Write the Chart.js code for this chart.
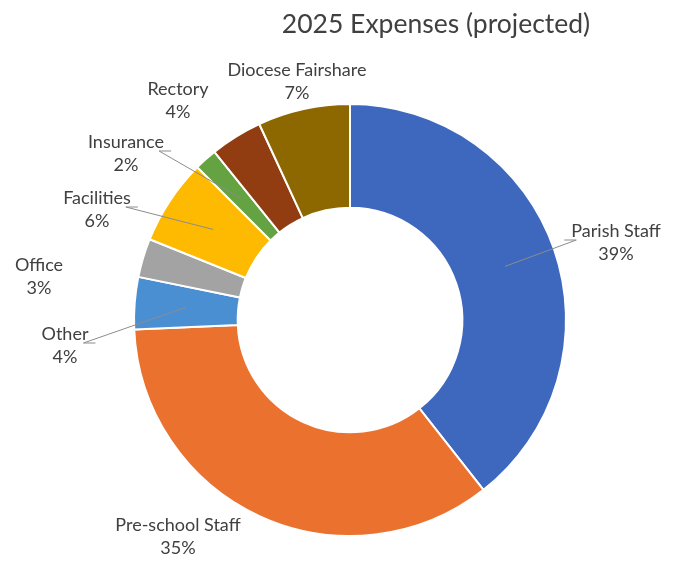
<!DOCTYPE html>
<html>
<head>
<meta charset="utf-8">
<script src="https://cdn.jsdelivr.net/npm/chart.js@4.4.1/dist/chart.umd.min.js"></script>
<style>
  html, body { margin: 0; padding: 0; background: #fff; }
  #wrap { width: 678px; height: 561px; position: relative; }
</style>
</head>
<body>
<div id="wrap"><canvas id="myChart"></canvas></div>
<script>
// data (share of projected 2025 expenses, %)
var categories = ["Parish Staff", "Pre-school Staff", "Other", "Office", "Facilities", "Insurance", "Rectory", "Diocese Fairshare"];
var values = [39.4, 34.9, 3.9, 2.9, 6.4, 1.7, 3.9, 6.9];
var colors = ['#3E67BE', '#EB712E', '#4B8FD3', '#A3A3A3', '#FDBA00', '#64A242', '#923D11', '#8D6700'];

// label placement, offset from the doughnut centre (px); leader = draw a line to the slice
var labelOffsets = [[266, -78], [-172, 216], [-285, 25], [-311, -44], [-253, -111], [-224, -167], [-172, -220], [-53, -239]];
var leaders = [true, false, true, false, true, true, false, false];

var textColor = '#404040';
var labelFont = '18px Lato';

var labelPlugin = {
  id: 'sliceLabels',
  afterDatasetsDraw: function(chart) {
    var ctx = chart.ctx;
    var meta = chart.getDatasetMeta(0);
    var cx = meta.data[0].x, cy = meta.data[0].y;
    var total = values.reduce(function(a, b) { return a + b; }, 0);

    ctx.save();
    // title
    ctx.fillStyle = textColor;
    ctx.font = '26.5px Lato';
    ctx.textAlign = 'center';
    ctx.textBaseline = 'middle';
    ctx.fillText('2025 Expenses (projected)', cx + 86, cy - 296);

    ctx.font = labelFont;
    meta.data.forEach(function(arc, i) {
      var lx = cx + labelOffsets[i][0];
      var ly = cy + labelOffsets[i][1];
      var pct = Math.round(values[i] / total * 100) + '%';

      if (leaders[i]) {
        var p = arc.getCenterPoint();
        var halfW = ctx.measureText(categories[i]).width / 2;
        var side = p.x < lx ? -1 : 1;
        var endX = lx + side * (halfW + 7);
        var elbowX = endX - side * 12;
        var endY = ly - 2;
        ctx.strokeStyle = '#8c8c8c';
        ctx.lineWidth = 1;
        ctx.beginPath();
        ctx.moveTo(p.x, p.y);
        ctx.lineTo(elbowX, endY);
        ctx.lineTo(endX, endY);
        ctx.stroke();
      }

      ctx.fillStyle = textColor;
      ctx.fillText(categories[i], lx, ly - 11);
      ctx.fillText(pct, lx, ly + 12);
    });
    ctx.restore();
  }
};

var ctx = document.getElementById('myChart').getContext('2d');
var myChart = new Chart(ctx, {
  type: 'doughnut',
  data: {
    labels: categories,
    datasets: [{
      label: '2025 Expenses (projected)',
      data: values,
      backgroundColor: colors,
      borderColor: '#ffffff',
      borderWidth: 2,
      hoverOffset: 0
    }]
  },
  options: {
    responsive: true,
    maintainAspectRatio: false,
    animation: false,
    cutout: '52%',
    layout: { padding: { top: 103, bottom: 24, left: 132, right: 110 } },
    plugins: {
      legend: { display: false },
      tooltip: { enabled: false },
      title: { display: false }
    }
  },
  plugins: [labelPlugin]
});
</script>
</body>
</html>
